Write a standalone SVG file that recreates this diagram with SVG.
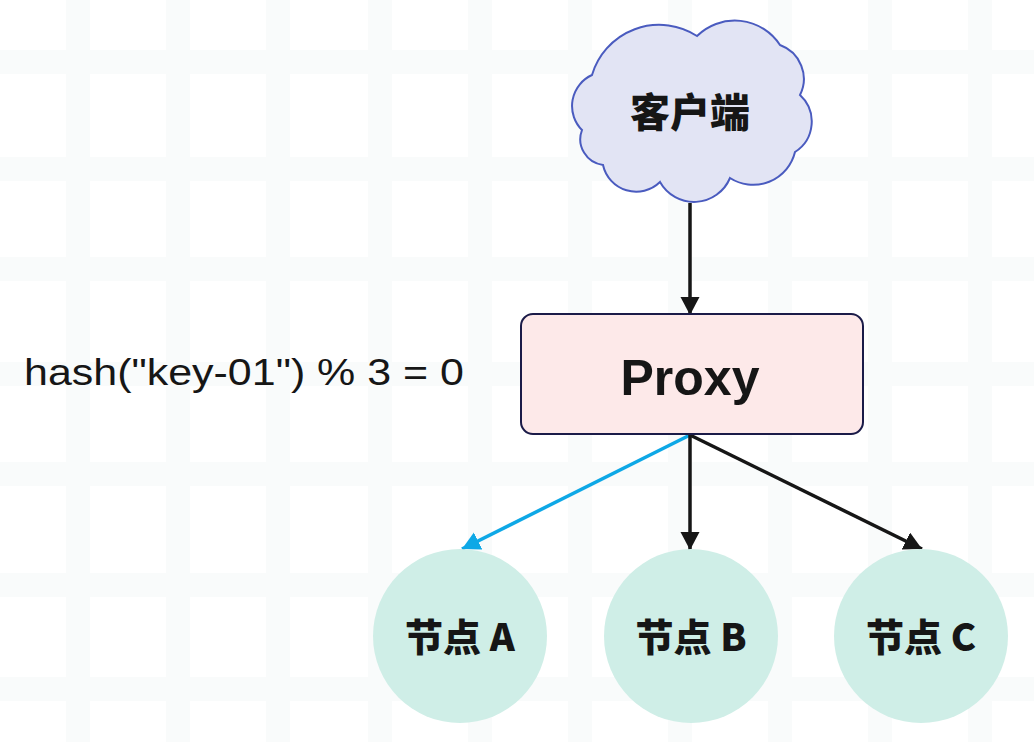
<svg xmlns="http://www.w3.org/2000/svg" width="1034" height="742" viewBox="0 0 1034 742">
  <defs>
    <marker id="ah-black" markerUnits="userSpaceOnUse" markerWidth="20" markerHeight="20" refX="18" refY="9.5" orient="auto">
      <path d="M0,0 L18,9.5 L0,19 Z" fill="#161616"/>
    </marker>
    <marker id="ah-blue" markerUnits="userSpaceOnUse" markerWidth="20" markerHeight="20" refX="18" refY="9.5" orient="auto">
      <path d="M0,0 L18,9.5 L0,19 Z" fill="#0ea8e6"/>
    </marker>
  </defs>
  <style>
    .grid { fill: #f9fbfb; }
    .conn { fill: none; stroke: #161616; stroke-width: 3.5; }
    .conn-hl { fill: none; stroke: #0ea8e6; stroke-width: 3.5; }
    .node-circle { fill: #cfeee7; }
    .cjk { font-family: "Noto Sans CJK SC", "Noto Sans", sans-serif; font-weight: 900; fill: #161616; text-anchor: middle; }
    .latin { font-family: "Liberation Sans", "Noto Sans", sans-serif; fill: #161616; }
  </style>
  <rect x="0" y="0" width="1034" height="742" fill="#ffffff"/>
  <g id="grid">
    <rect class="grid" x="66" y="0" width="24" height="742"/>
    <rect class="grid" x="166" y="0" width="24" height="742"/>
    <rect class="grid" x="266" y="0" width="24" height="742"/>
    <rect class="grid" x="368" y="0" width="24" height="742"/>
    <rect class="grid" x="468" y="0" width="24" height="742"/>
    <rect class="grid" x="568" y="0" width="24" height="742"/>
    <rect class="grid" x="668" y="0" width="24" height="742"/>
    <rect class="grid" x="768" y="0" width="24" height="742"/>
    <rect class="grid" x="868" y="0" width="24" height="742"/>
    <rect class="grid" x="968" y="0" width="24" height="742"/>
    <rect class="grid" x="0" y="50" width="1034" height="24"/>
    <rect class="grid" x="0" y="157" width="1034" height="24"/>
    <rect class="grid" x="0" y="257" width="1034" height="24"/>
    <rect class="grid" x="0" y="362" width="1034" height="24"/>
    <rect class="grid" x="0" y="462" width="1034" height="24"/>
    <rect class="grid" x="0" y="573" width="1034" height="24"/>
    <rect class="grid" x="0" y="677" width="1034" height="24"/>
  </g>
  <g id="connectors">
    <path class="conn" d="M690,203 L690,315" marker-end="url(#ah-black)"/>
    <path class="conn-hl" d="M690,435 L462,549" marker-end="url(#ah-blue)"/>
    <path class="conn" d="M690,435 L690,550" marker-end="url(#ah-black)"/>
    <path class="conn" d="M690,435 L922,549" marker-end="url(#ah-black)"/>
  </g>
  <g id="client">
    <path d="M592,75 A70,70 0 0 1 697,36 A54,54 0 0 1 780,45 A36,36 0 0 1 800,95 A36,36 0 0 1 795,152 A43,43 0 0 1 730,178 A39,39 0 0 1 660,182 A34,34 0 0 1 603,165 A26,26 0 0 1 582,130 A34,34 0 0 1 592,75 Z" fill="#e2e4f4" stroke="#4a5bbf" stroke-width="2"/>
    <text class="cjk" x="690" y="127" font-size="40">客户端</text>
  </g>
  <g id="proxy">
    <rect x="521" y="314" width="342" height="120" rx="12" ry="12" fill="#fde9e9" stroke="#1b1b48" stroke-width="2"/>
    <text class="latin" x="690" y="395" font-size="50" font-weight="bold" text-anchor="middle">Proxy</text>
  </g>
  <g id="hash-label">
    <text class="latin" x="24" y="385" font-size="36" textLength="440" lengthAdjust="spacingAndGlyphs">hash("key-01") % 3 = 0</text>
  </g>
  <g id="node-a">
    <circle class="node-circle" cx="460" cy="636" r="87"/>
    <text class="cjk" x="460" y="651" font-size="38">节点 A</text>
  </g>
  <g id="node-b">
    <circle class="node-circle" cx="691" cy="636" r="87"/>
    <text class="cjk" x="691" y="651" font-size="38">节点 B</text>
  </g>
  <g id="node-c">
    <circle class="node-circle" cx="921" cy="636" r="87"/>
    <text class="cjk" x="921" y="651" font-size="38">节点 C</text>
  </g>
</svg>
